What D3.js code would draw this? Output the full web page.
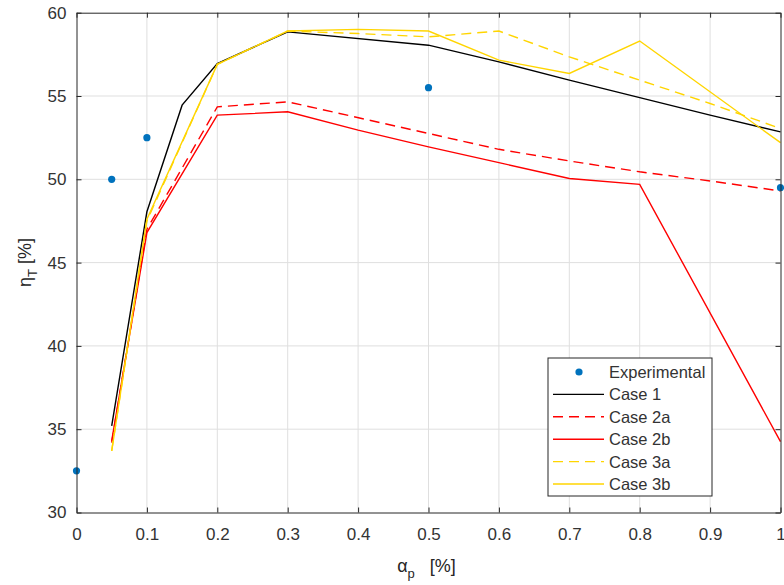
<!DOCTYPE html>
<html>
<head>
<meta charset="utf-8">
<script src="https://cdn.jsdelivr.net/npm/d3@7"></script>
<style>
  body { margin: 0; background: #fff; }
  text { font-family: "Liberation Sans", Arial, sans-serif; fill: #262626; }
</style>
</head>
<body>
<svg width="784" height="585"></svg>
<script>
// experimental points
const expX = [0, 0.05, 0.1, 0.5, 1];
const expY = [32.5, 50, 52.5, 55.5, 49.5];

// simulation cases
const case1X = [0.05, 0.1, 0.15, 0.2, 0.3, 0.5, 0.6, 0.7, 0.8, 0.9, 1];
const case1Y = [35.2, 48.05, 54.45, 56.95, 58.85, 58.05, 57.05, 55.95, 54.9, 53.85, 52.85];

const case2aX = [0.05, 0.1, 0.2, 0.3, 0.5, 0.6, 0.7, 0.8, 0.9, 1];
const case2aY = [34.2, 47.0, 54.35, 54.65, 52.75, 51.8, 51.1, 50.45, 49.9, 49.3];

const case2bX = [0.05, 0.1, 0.2, 0.3, 0.4, 0.5, 0.6, 0.7, 0.8, 1];
const case2bY = [34.3, 46.8, 53.85, 54.05, 52.95, 51.95, 51.0, 50.05, 49.7, 34.25];

const case3aX = [0.05, 0.1, 0.2, 0.3, 0.4, 0.5, 0.6, 0.7, 0.8, 0.9, 1];
const case3aY = [33.7, 47.5, 56.9, 58.9, 58.75, 58.55, 58.9, 57.35, 55.95, 54.55, 53.05];

const case3bX = [0.05, 0.1, 0.2, 0.3, 0.4, 0.5, 0.6, 0.7, 0.8, 1];
const case3bY = [33.7, 47.6, 56.9, 58.9, 59.0, 58.9, 57.15, 56.35, 58.3, 52.2];

const xTicks = [0, 0.1, 0.2, 0.3, 0.4, 0.5, 0.6, 0.7, 0.8, 0.9, 1];
const yTicks = [30, 35, 40, 45, 50, 55, 60];

let margin = { top: 12.7, right: 3.5, bottom: 72.5, left: 76.5 },
  svg = d3.select('svg'),
  width = +svg.attr('width') - margin.left - margin.right,
  height = +svg.attr('height') - margin.top - margin.bottom;

let g = svg.append("g")
  .attr("transform", "translate(" + margin.left + "," + margin.top + ")");

let x = d3.scaleLinear().domain([0, 1]).range([0, width]),
  y = d3.scaleLinear().domain([30, 60]).range([height, 0]);

// grid
g.append("g").selectAll("line").data(xTicks.slice(1, -1)).enter().append("line")
  .attr("x1", d => x(d)).attr("x2", d => x(d))
  .attr("y1", 0).attr("y2", height)
  .style("stroke", "#dfdfdf").style("stroke-width", 1);
g.append("g").selectAll("line").data(yTicks.slice(1, -1)).enter().append("line")
  .attr("y1", d => y(d)).attr("y2", d => y(d))
  .attr("x1", 0).attr("x2", width)
  .style("stroke", "#dfdfdf").style("stroke-width", 1);

let series = [
  { name: "Case 1", xs: case1X, ys: case1Y, color: "#000000", dash: null },
  { name: "Case 2a", xs: case2aX, ys: case2aY, color: "#ff0000", dash: "10,6" },
  { name: "Case 2b", xs: case2bX, ys: case2bY, color: "#ff0000", dash: null },
  { name: "Case 3a", xs: case3aX, ys: case3aY, color: "#ffd500", dash: "10,6" },
  { name: "Case 3b", xs: case3bX, ys: case3bY, color: "#ffd500", dash: null }
];

let line = d3.line()
  .x(d => x(d[0]))
  .y(d => y(d[1]));

g.selectAll(".trend")
  .data(series)
  .enter()
  .append("path")
  .attr("class", "trend")
  .attr("d", d => line(d.xs.map((v, i) => [v, d.ys[i]])))
  .style("fill", "none")
  .style("stroke", d => d.color)
  .style("stroke-width", 1.4)
  .style("stroke-dasharray", d => d.dash);

g.selectAll(".exp")
  .data(expX.map((v, i) => [v, expY[i]]))
  .enter()
  .append("circle")
  .attr("class", "exp")
  .attr("cx", d => x(d[0]))
  .attr("cy", d => y(d[1]))
  .attr("r", 3.6)
  .style("fill", "#0072bd");

// axes (matlab-like box with inward ticks)
let axisColor = "#262626";
g.append("g")
  .attr("class", "axis axis-x")
  .attr("transform", "translate(0," + height + ")")
  .call(d3.axisBottom(x).tickValues(xTicks).tickSizeInner(-5).tickSizeOuter(0)
    .tickPadding(15).tickFormat(d3.format("")));
g.append("g")
  .attr("class", "axis axis-x2")
  .call(d3.axisTop(x).tickValues(xTicks).tickSizeInner(-5).tickSizeOuter(0).tickFormat(""));
g.append("g")
  .attr("class", "axis axis-y")
  .call(d3.axisLeft(y).tickValues(yTicks).tickSizeInner(-5).tickSizeOuter(0).tickPadding(10));
g.append("g")
  .attr("class", "axis axis-y2")
  .attr("transform", "translate(" + width + ",0)")
  .call(d3.axisRight(y).tickValues(yTicks).tickSizeInner(-5).tickSizeOuter(0).tickFormat(""));

g.selectAll(".axis path").style("stroke", axisColor).style("stroke-width", 1);
g.selectAll(".axis line").style("stroke", axisColor);
g.selectAll(".axis text").style("font-size", "17px").style("fill", "#333")
  .style("font-family", "'Liberation Sans', Arial, sans-serif");

// axis labels
let xl = svg.append("text")
  .attr("x", margin.left + width / 2 - 2)
  .attr("y", 572)
  .attr("text-anchor", "middle")
  .attr("xml:space", "preserve")
  .style("font-size", "18px");
xl.append("tspan").text("α");
xl.append("tspan").attr("dy", 6).style("font-size", "13px").text("p");
xl.append("tspan").attr("dy", -6).text("   [%]");

let yl = svg.append("text")
  .attr("transform", "translate(31," + (margin.top + height / 2) + ") rotate(-90)")
  .attr("text-anchor", "middle")
  .attr("xml:space", "preserve")
  .style("font-size", "18px");
yl.append("tspan").text("η");
yl.append("tspan").attr("dy", 6).style("font-size", "13px").text("T");
yl.append("tspan").attr("dy", -6).text(" [%]");

// legend
let lg = svg.append("g").attr("transform", "translate(548,358)");
lg.append("rect")
  .attr("width", 164).attr("height", 138)
  .style("fill", "#fff").style("stroke", axisColor).style("stroke-width", 1);

let items = [{ name: "Experimental", marker: true }].concat(series);
let rowH = 22.4;
let row = lg.selectAll(".leg")
  .data(items)
  .enter()
  .append("g")
  .attr("class", "leg")
  .attr("transform", (d, i) => "translate(0," + (14 + i * rowH) + ")");

row.filter(d => d.marker).append("circle")
  .attr("cx", 31).attr("cy", 0).attr("r", 3.6)
  .style("fill", "#0072bd");
row.filter(d => !d.marker).append("line")
  .attr("x1", 5).attr("x2", 56)
  .style("stroke", d => d.color)
  .style("stroke-width", 1.4)
  .style("stroke-dasharray", d => d.dash);
row.append("text")
  .attr("x", 61)
  .attr("y", 6)
  .style("font-size", "16.5px")
  .style("fill", "#333")
  .text(d => d.name);
</script>
</body>
</html>
